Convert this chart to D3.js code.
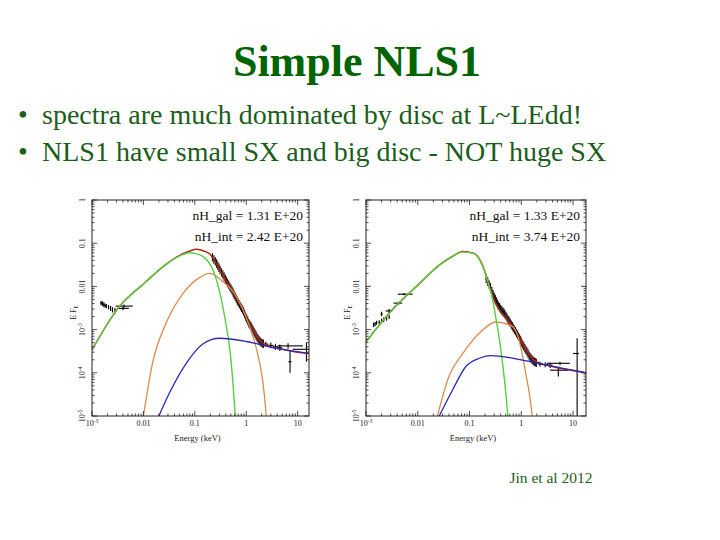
<!DOCTYPE html>
<html><head><meta charset="utf-8">
<script src="https://cdn.jsdelivr.net/npm/d3@7"></script>
<style>body{margin:0;background:#fff}</style></head>
<body>
<svg id="c" width="720" height="540"></svg>
<script>
// ---------- text content ----------
const titleText = "Simple NLS1";
const bulletTexts = ["spectra are much dominated by disc at L~LEdd!", "NLS1 have small SX and big disc - NOT huge SX"];
const citationText = "Jin et al 2012";
const xAxisTitle = "Energy (keV)";

// ---------- tick labels ----------
const xTickValues = [1e-3, 0.01, 0.1, 1, 10];
const xTickLabels = [["10", "-3"], ["0.01"], ["0.1"], ["1"], ["10"]];
const yTickValues = [1e-5, 1e-4, 1e-3, 0.01, 0.1, 1];
const yTickLabels = [["10", "-5"], ["10", "-4"], ["10", "-3"], ["0.01"], ["0.1"], ["1"]];

// ---------- left panel (E, E F_E) ----------
const leftNotes = ["nH_gal = 1.31 E+20", "nH_int = 2.42 E+20"];
const leftXMax = 16.6;
const leftDisc = [[0.001,3.4e-4],[0.0034,3.4e-3],[0.01,0.0114],[0.032,0.037],[0.06,0.055],[0.08,0.060],[0.1,0.058],[0.145,0.049],[0.225,0.024],[0.28,0.011],[0.35,0.0034],[0.42,1.0e-3],[0.48,3.4e-4],[0.55,6e-5],[0.61,1e-5]];
const leftSoftX = [[0.01,1e-5],[0.015,1.66e-4],[0.0275,1.4e-3],[0.059,6.9e-3],[0.123,0.016],[0.195,0.020],[0.35,0.013],[0.65,5.8e-3],[1.16,1.17e-3],[1.5,4.5e-4],[1.83,1.66e-4],[2.15,5e-5],[2.45,1e-5]];
const leftPowerLaw = [[0.02,1e-5],[0.032,3.4e-5],[0.068,1.66e-4],[0.145,4.7e-4],[0.30,6.3e-4],[1.0,5.3e-4],[2.8,4.0e-4],[16.6,2.8e-4]];
const leftTotal = [[0.001,3.4e-4],[0.0034,3.4e-3],[0.01,0.0114],[0.032,0.037],[0.06,0.058],[0.08,0.066],[0.107,0.072],[0.15,0.066],[0.195,0.056],[0.26,0.034],[0.35,0.018],[0.48,0.0098],[0.65,0.0052],[0.86,0.0028],[1.1,0.0015],[1.36,9.8e-4],[1.7,6.2e-4],[2.13,4.8e-4],[2.8,4.1e-4],[5,3.5e-4],[10,3.0e-4],[16.6,2.8e-4]];
const leftDenseE = [0.22,0.235,0.25,0.265,0.28,0.295,0.31,0.33,0.35,0.37,0.39,0.41,0.43,0.455,0.48,0.505,0.53,0.555,0.58,0.61,0.64,0.67,0.70,0.735,0.77,0.81,0.85,0.89,0.93,0.975,1.02,1.07,1.12,1.175,1.23,1.29,1.35,1.42,1.48,1.55,1.62,1.70,1.78,1.86,1.95,2.05,2.15];
const leftDenseF = [0.047,0.042,0.038,0.034,0.030,0.027,0.024,0.021,0.019,0.017,0.015,0.0135,0.012,0.011,0.0098,0.0089,0.0080,0.0072,0.0064,0.0058,0.0052,0.0047,0.0043,0.0039,0.0035,0.0032,0.0029,0.0026,0.0023,0.0020,0.0018,0.0016,0.0014,0.0013,0.0012,0.0011,9.8e-4,8.8e-4,8.0e-4,7.3e-4,6.6e-4,6.1e-4,5.6e-4,5.3e-4,5.0e-4,4.8e-4,4.7e-4];
// sparse points: [E, F, Elo, Ehi, Flo, Fhi]
const leftSparse = [[0.0015,4.1e-3,0.00145,0.00155,3.6e-3,4.6e-3],[0.0016,4.0e-3,0.00155,0.00165,3.5e-3,4.5e-3],[0.0017,3.8e-3,0.00165,0.00175,3.3e-3,4.3e-3],[0.0018,3.6e-3,0.00175,0.00185,3.2e-3,4.0e-3],[0.0019,3.5e-3,0.00185,0.00195,3.1e-3,3.9e-3],[0.0021,3.3e-3,0.00205,0.00215,2.9e-3,3.7e-3],[0.0023,3.1e-3,0.00225,0.00235,2.7e-3,3.5e-3],[0.0025,2.9e-3,0.00245,0.00255,2.5e-3,3.3e-3],[0.0028,2.8e-3,0.00275,0.00285,2.4e-3,3.2e-3],[0.0042,3.5e-3,0.0029,0.0062,3.2e-3,3.8e-3],[0.0040,3.1e-3,0.0031,0.0052,2.8e-3,3.4e-3],[2.4,4.6e-4,2.2,2.7,4.0e-4,5.2e-4],[3.0,4.3e-4,2.7,3.4,3.7e-4,5.0e-4],[3.7,4.0e-4,3.3,4.2,3.4e-4,4.7e-4],[4.5,3.8e-4,4.0,5.0,3.2e-4,4.5e-4],[6.5,4.2e-4,4.1,12.6,3.6e-4,4.8e-4],[7.1,1.8e-4,6.6,7.6,1.0e-4,3.3e-4],[14.8,3.5e-4,8.0,16.6,1.8e-4,5.0e-4]];

// ---------- right panel ----------
const rightNotes = ["nH_gal = 1.33 E+20", "nH_int = 3.74 E+20"];
const rightXMax = 17.8;
const rightDisc = [[0.001,5.2e-4],[0.0028,2.4e-3],[0.01,0.0107],[0.026,0.031],[0.05,0.052],[0.074,0.063],[0.12,0.058],[0.18,0.029],[0.23,0.012],[0.28,4.9e-3],[0.33,1.6e-3],[0.38,5.8e-4],[0.45,1.2e-4],[0.51,2.8e-5],[0.55,1e-5]];
const rightSoftX = [[0.024,1e-5],[0.040,8.2e-5],[0.074,2.8e-4],[0.18,9.8e-4],[0.32,1.5e-3],[0.68,1.17e-3],[0.97,4.1e-4],[1.25,8.2e-5],[1.45,3e-5],[1.63,1e-5]];
const rightPowerLaw = [[0.026,1e-5],[0.047,4e-5],[0.085,1.4e-4],[0.16,2.2e-4],[0.26,2.5e-4],[1.0,2.0e-4],[4.1,1.4e-4],[17.8,1e-4]];
const rightTotal = [[0.001,5.2e-4],[0.0028,2.4e-3],[0.01,0.0107],[0.026,0.031],[0.05,0.052],[0.074,0.064],[0.12,0.059],[0.18,0.030],[0.226,0.0135],[0.28,5.8e-3],[0.38,2.8e-3],[0.51,1.8e-3],[0.69,1.17e-3],[0.93,6.3e-4],[1.25,3.4e-4],[1.7,2.0e-4],[2.2,1.7e-4],[4,1.4e-4],[17.8,1e-4]];
const rightDenseE = [0.21,0.225,0.24,0.255,0.27,0.285,0.30,0.315,0.33,0.345,0.36,0.38,0.40,0.42,0.44,0.46,0.48,0.505,0.53,0.555,0.58,0.61,0.64,0.67,0.70,0.735,0.77,0.81,0.85,0.89,0.93,0.975,1.02,1.07,1.12,1.175,1.23,1.29,1.35,1.42,1.48,1.55,1.62,1.70,1.78,1.86,1.95];
const rightDenseF = [0.015,0.013,0.011,0.0094,0.0078,0.0067,0.0058,0.0051,0.0045,0.0040,0.0036,0.0033,0.0030,0.0028,0.0026,0.0025,0.0023,0.0021,0.0019,0.0017,0.0016,0.00145,0.0013,0.0012,0.0011,0.0010,9.2e-4,8.3e-4,7.5e-4,6.8e-4,6.2e-4,5.6e-4,5.0e-4,4.5e-4,4.1e-4,3.7e-4,3.4e-4,3.1e-4,2.8e-4,2.5e-4,2.3e-4,2.15e-4,2.0e-4,1.9e-4,1.8e-4,1.75e-4,1.7e-4];
const rightSparse = [[0.0014,1.3e-3,0.00135,0.00145,1.15e-3,1.45e-3],[0.0015,1.35e-3,0.00145,0.00155,1.2e-3,1.5e-3],[0.0016,1.45e-3,0.00155,0.00165,1.3e-3,1.6e-3],[0.0018,1.5e-3,0.00175,0.00185,1.35e-3,1.65e-3],[0.0020,1.6e-3,0.00195,0.00205,1.45e-3,1.8e-3],[0.0022,1.7e-3,0.00215,0.00225,1.5e-3,1.9e-3],[0.0025,1.8e-3,0.00245,0.00255,1.6e-3,2.0e-3],[0.0028,1.95e-3,0.00275,0.00285,1.75e-3,2.2e-3],[0.0020,2.3e-3,0.0019,0.0021,2.05e-3,2.6e-3],[0.0028,2.7e-3,0.0024,0.0032,2.4e-3,3.0e-3],[0.0043,4.1e-3,0.0034,0.0050,3.8e-3,4.4e-3],[0.0054,6.6e-3,0.0041,0.0080,6.2e-3,7.0e-3],[2.3,1.6e-4,2.1,2.6,1.4e-4,1.8e-4],[2.9,1.55e-4,2.6,3.3,1.35e-4,1.75e-4],[3.6,1.5e-4,3.2,4.0,1.3e-4,1.7e-4],[5.6,1.66e-4,3.1,8.7,1.5e-4,1.8e-4],[5.2,1.15e-4,3.6,8.0,8.2e-5,1.4e-4],[12.0,2.8e-4,10.0,13.0,1e-5,6.3e-4]];

// ---------- drawing ----------
const svg = d3.select("#c");
svg.append("rect").attr("width",720).attr("height",540).attr("fill","#fff");

svg.append("text").attr("x",357).attr("y",76).attr("text-anchor","middle")
  .attr("font-family","'Liberation Serif','Times New Roman',serif").attr("font-weight","bold")
  .attr("font-size",44).attr("fill","#006400").text(titleText);

bulletTexts.forEach((t,i)=>{
  const y = 124 + i*37;
  svg.append("text").attr("x",18).attr("y",y).attr("font-family","'Liberation Serif',serif")
    .attr("font-size",28).attr("fill","#1a5e1a").text("\u2022");
  svg.append("text").attr("x",42).attr("y",y).attr("font-family","'Liberation Serif',serif")
    .attr("font-size",28).attr("fill","#1a5e1a").text(t);
});
svg.append("text").attr("x",551).attr("y",483).attr("text-anchor","middle")
  .attr("font-family","'Liberation Serif',serif").attr("font-size",15.5).attr("fill","#1a5e1a").text(citationText);

const COL = {disc:"#55d040", softx:"#e08a4c", pl:"#2a28b4", total:"#b52418"};

function supText(sel, parts, size){
  sel.append("tspan").text(parts[0]);
  if(parts.length>1) sel.append("tspan").attr("font-size",size*0.7).attr("dy",-size*0.4).text(parts[1]);
}

function drawPanel(P, xMax, disc, softx, pl, total, denseE, denseF, sparse, notes, id){
  const x = d3.scaleLog().domain([1e-3, xMax]).range([P.x0, P.x1]);
  const y = d3.scaleLog().domain([1e-5, 1]).range([P.y1, P.y0]);
  const g = svg.append("g");
  g.append("clipPath").attr("id","clip"+id).append("rect")
    .attr("x",P.x0).attr("y",P.y0).attr("width",P.x1-P.x0).attr("height",P.y1-P.y0);
  const plot = g.append("g").attr("clip-path",`url(#clip${id})`);

  // data
  const dg = plot.append("g").attr("stroke","#000").attr("stroke-width",1.1);
  denseE.forEach((e,i)=>{
    const f = denseF[i];
    dg.append("line").attr("x1",x(e*0.97)).attr("x2",x(e*1.03)).attr("y1",y(f)).attr("y2",y(f));
    dg.append("line").attr("x1",x(e)).attr("x2",x(e)).attr("y1",y(f*0.8)).attr("y2",y(f*1.25));
  });
  sparse.forEach(d=>{
    dg.append("line").attr("x1",x(d[2])).attr("x2",x(d[3])).attr("y1",y(d[1])).attr("y2",y(d[1]));
    dg.append("line").attr("x1",x(d[0])).attr("x2",x(d[0])).attr("y1",y(d[4])).attr("y2",y(d[5]));
  });

  const line = d3.line().x(d=>x(d[0])).y(d=>y(d[1])).curve(d3.curveMonotoneX);
  plot.append("path").datum(total).attr("d",line).attr("fill","none").attr("stroke",COL.total).attr("stroke-width",1.5);
  plot.append("path").datum(softx).attr("d",line).attr("fill","none").attr("stroke",COL.softx).attr("stroke-width",1.3);
  plot.append("path").datum(disc).attr("d",line).attr("fill","none").attr("stroke",COL.disc).attr("stroke-width",1.4);
  plot.append("path").datum(pl).attr("d",line).attr("fill","none").attr("stroke",COL.pl).attr("stroke-width",1.3);

  // frame
  g.append("rect").attr("x",P.x0).attr("y",P.y0).attr("width",P.x1-P.x0).attr("height",P.y1-P.y0)
    .attr("fill","none").attr("stroke","#222").attr("stroke-width",1);
  const isMajor = v => Math.abs(Math.log10(v)-Math.round(Math.log10(v)))<1e-6;
  const tg = g.append("g").attr("stroke","#222").attr("stroke-width",0.8);
  x.ticks().forEach(v=>{
    const L = isMajor(v)?5:2.5, xx = x(v);
    tg.append("line").attr("x1",xx).attr("x2",xx).attr("y1",P.y1).attr("y2",P.y1-L);
    tg.append("line").attr("x1",xx).attr("x2",xx).attr("y1",P.y0).attr("y2",P.y0+L);
  });
  y.ticks().forEach(v=>{
    const L = isMajor(v)?5:2.5, yy = y(v);
    tg.append("line").attr("y1",yy).attr("y2",yy).attr("x1",P.x0).attr("x2",P.x0+L);
    tg.append("line").attr("y1",yy).attr("y2",yy).attr("x1",P.x1).attr("x2",P.x1-L);
  });

  const font = "'Liberation Serif',serif";
  xTickValues.forEach((v,i)=>{
    const t = g.append("text").attr("x",x(v)).attr("y",P.y1+10).attr("text-anchor","middle")
      .attr("font-family",font).attr("font-size",8).attr("fill","#222");
    supText(t, xTickLabels[i], 8);
  });
  yTickValues.forEach((v,i)=>{
    const t = g.append("text").attr("transform",`translate(${P.x0-7},${y(v)}) rotate(-90)`)
      .attr("text-anchor","middle").attr("font-family",font).attr("font-size",8).attr("fill","#222");
    supText(t, yTickLabels[i], 8);
  });
  g.append("text").attr("x",(P.x0+P.x1)/2-3).attr("y",P.y1+25).attr("text-anchor","middle")
    .attr("font-family",font).attr("font-size",8.5).attr("fill","#222").text(xAxisTitle);
  const yl = g.append("text").attr("transform",`translate(${P.x0-16},${y(2.5e-3)}) rotate(-90)`)
    .attr("text-anchor","middle").attr("font-family",font).attr("font-size",8).attr("fill","#222");
  yl.append("tspan").text("E F");
  yl.append("tspan").attr("font-size",5.5).attr("dy",2).text("E");

  notes.forEach((n,i)=>{
    g.append("text").attr("x",P.x1-6).attr("y",P.y0+20+i*21).attr("text-anchor","end")
      .attr("font-family",font).attr("font-size",13.5).attr("fill","#111").text(n);
  });
}

drawPanel({x0:92,x1:309,y0:200,y1:416}, leftXMax, leftDisc, leftSoftX, leftPowerLaw, leftTotal, leftDenseE, leftDenseF, leftSparse, leftNotes, "L");
drawPanel({x0:366,x1:586,y0:200,y1:416}, rightXMax, rightDisc, rightSoftX, rightPowerLaw, rightTotal, rightDenseE, rightDenseF, rightSparse, rightNotes, "R");
</script>
</body></html>
